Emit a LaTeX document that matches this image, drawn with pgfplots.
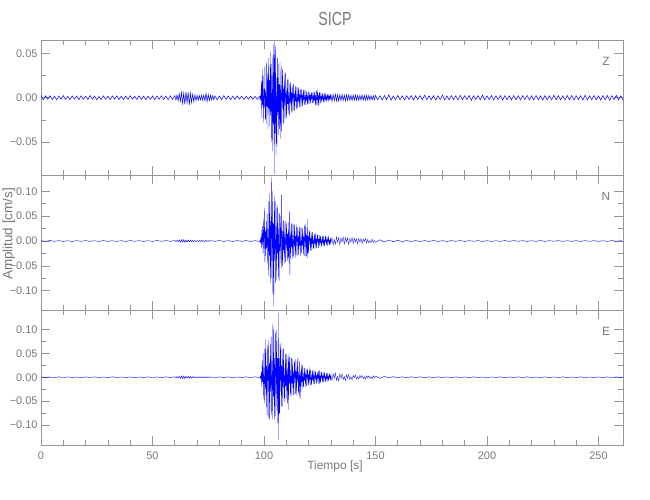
\documentclass[border=0pt]{standalone}
\usepackage{fontspec}
\setmainfont{Liberation Sans}
\usepackage{pgfplots}
\pgfplotsset{compat=1.18}
\definecolor{axgray}{RGB}{150,150,150}
\definecolor{txtgray}{RGB}{120,120,120}
\pgfplotsset{
  seis/.style={
    scale only axis, width=582bp, height=135bp,
    xmin=0, xmax=261,
    axis line style={axgray, line width=0.6bp},
    tick style={axgray, line width=0.6bp},
    major tick length=9bp, minor tick length=5bp,
    xtick={0,50,100,150,200,250}, minor x tick num=4,
    minor y tick num=1,
    tick label style={font=\fontsize{11}{12}\selectfont, text=txtgray},
    xticklabel style={yshift=-3bp},
    xticklabels={},
    clip=true,
  },
  trace/.style={blue, line width=0.3bp},
  noise/.style={blue, line width=0.5bp},
}
\begin{document}
\begin{tikzpicture}
\useasboundingbox (0,0) rectangle (650bp,500bp);
% ---------------- Z ----------------
\begin{axis}[seis, at={(41bp,325bp)}, anchor=south west, ymin=-87, ymax=65,
  ytick={-50,0,50}, yticklabels={−0.05,0.00,0.05}]
\addplot[noise] coordinates {
(0,2.8)(1,-2.4)(2,2.1)(3,-1.8)(4,2.3)(5,-2.0)(6,1.5)(7,-2.2)(8,1.9)(9,-1.7)(10,2.4)(11,-1.9)(12,1.6)(13,-2.3)(14,2.0)(15,-1.5)(16,1.8)(17,-2.1)(18,2.2)(19,-1.8)(20,1.7)(21,-2.0)(22,2.5)(23,-1.6)(24,1.9)(25,-2.2)(26,1.5)(27,-1.9)(28,2.1)(29,-1.7)(30,1.8)(31,-2.3)(32,2.0)(33,-1.6)(34,2.2)(35,-1.9)(36,1.7)(37,-2.1)(38,1.9)(39,-1.8)(40,2.3)(41,-1.7)(42,1.6)(43,-2.0)(44,2.1)(45,-1.9)(46,1.8)(47,-2.2)(48,1.7)(49,-1.8)(50,2.0)(51,-2.1)(52,1.9)(53,-1.6)(54,2.2)(55,-2.0)(56,1.8)(57,-2.3)(58,2.1)(59,-1.9)
(60,2.4)(60.5,-2.6)(61,3.0)(61.5,-3.4)(62,4.4)(62.5,-4.0)(63,5.8)(63.5,-6.5)(64,5.0)(64.5,-7.5)(65,6.6)(65.5,-5.6)(66,6.2)(66.5,-8.0)(67,4.8)(67.5,-5.2)(68,3.8)(68.5,-4.2)(69,3.2)(69.5,-3.0)(70,2.7)(70.5,-2.9)(71,2.4)(71.5,-2.3)(72,2.6)(72.5,-2.8)(73,3.2)(73.5,-3.6)(74,5.0)(74.5,-4.2)(75,3.6)(75.5,-3.2)(76,2.7)(76.5,-2.5)(77,2.3)(77.5,-2.2)(78,2.1)
(79,-2.3)(80,1.9)(81,-2.1)(82,2.4)(83,-1.8)(84,2.0)(85,-2.2)(86,1.7)(87,-1.9)(88,2.1)(89,-1.6)(90,1.8)(91,-2.0)(92,1.6)(93,-1.8)(94,1.9)(95,-1.7)(96,1.5)(97,-1.8)(98,1.7)
};
\addplot[trace] coordinates {
(98,1.7)(98.2,-1.8)(98.4,2.0)(98.6,-3)(98.8,18)(99.0,-22)(99.2,32)(99.4,-8)(99.6,25)(99.8,-28)(100.0,10)(100.2,-12)(100.4,35)(100.6,-25)(100.8,8)(101.0,-30)(101.2,40)(101.4,-10)(101.6,28)(101.8,-35)(102.0,45)(102.2,-12)(102.4,20)(102.6,-32)(102.8,52)(103.0,-20)(103.2,38)(103.4,-50)(103.6,25)(103.8,-60)(104.0,48)(104.2,-30)(104.4,60)(104.6,-86)(104.8,64)(105.0,-40)(105.2,58)(105.4,-65)(105.6,22)(105.8,-55)(106.0,45)(106.2,-20)(106.4,38)(106.6,-42)(106.8,15)(107.0,-35)(107.2,40)(107.4,-46)(107.6,14)(107.8,-38)(108.0,35)(108.2,-12)(108.4,32)(108.6,-30)(108.8,10)(109.0,-28)(109.2,26)(109.4,-9)(109.6,28)(109.8,-22)(110.0,8)(110.2,-24)(110.4,20)(110.6,-7)(110.8,22)(111.0,-18)(111.2,6)(111.4,-20)(111.6,16)(111.8,-6)(112.0,18)(112.2,-15)(112.4,6)(112.6,-17)(112.8,14)(113.0,-5)(113.2,16)(113.4,-14)(113.6,5)(113.8,-15)(114.0,13)(114.2,-4)(114.4,12)(114.6,-13)(114.8,4)(115.0,-12)(115.2,11)(115.4,-4)(115.6,12)(115.8,-10)(116.0,4)(116.2,-11)(116.4,10)(116.6,-3)(116.8,10)(117.0,-9)(117.2,3)(117.4,-10)(117.6,9)(117.8,-3)(118.0,9)(118.2,-8)(118.4,3)(118.6,-8)(118.8,8)(119.0,-3)(119.2,7)(119.4,-8)(119.6,3)(119.8,-7)(120.0,7)(120.2,-3)(120.4,6)(120.6,-7)(120.8,3)(121.0,-6)(121.2,6)(121.4,-2)(121.6,6)(121.8,-6)(122.0,3)(122.2,-6)(122.4,7)(122.6,-3)(122.8,7)(123.0,-8)(123.2,3)(123.4,-9)(123.6,8)(123.8,-3)(124.0,9)(124.2,-10)(124.4,3)(124.6,-8)(124.8,7)(125.0,-3)(125.2,6)(125.4,-6)(125.6,2)(125.8,-5)(126.0,5)(126.2,-2)(126.4,5)(126.6,-5)(126.8,2)(127.0,-5)(127.2,5)(127.4,-2)(127.6,5)(127.8,-4)(128.0,2)(128.2,-4)(128.4,4)(128.6,-2)(128.8,4)(129.0,-4)(129.2,2)(129.4,-3)(129.6,4)(129.8,-2)(130.0,3.5)
};
\addplot[noise] coordinates {
(130,3.5)(130.5,-4)(131,3.6)(131.5,-3.4)(132,4)(132.5,-3.6)(133,3.2)(133.5,-3.8)(134,3.4)(134.5,-3.1)(135,3.6)(135.5,-3.3)(136,3)(136.5,-3.5)(137,3.2)(137.5,-2.9)(138,3.3)(138.5,-3)(139,2.8)(139.5,-3.2)(140,3)(140.5,-2.7)(141,3.1)(141.5,-2.9)(142,2.6)(142.5,-3)(143,2.8)(143.5,-2.6)(144,2.9)(144.5,-2.7)(145,2.5)(145.5,-2.8)(146,2.6)(146.5,-2.4)(147,2.7)(147.5,-2.5)(148,2.3)(148.5,-2.6)(149,2.4)(149.5,-2.3)(150,2.5)
(151,-2.4)(152,2.2)(153,-2.6)(154,2.5)(155,-2.1)(156,3.4)(157,-2.8)(158,2.0)(159,-2.3)(160,2.6)(161,-2.2)(162,2.1)(163,-2.5)(164,2.3)(165,-2.0)(166,2.4)(167,-2.7)(168,2.2)(169,-2.1)(170,2.5)(171,-2.3)(172,2.8)(173,-2.2)(174,2.1)(175,-2.4)(176,2.3)(177,-2.6)(178,2.2)(179,-2.1)(180,3.0)(181,-2.5)(182,2.1)(183,-2.3)(184,2.4)(185,-2.2)(186,2.0)(187,-2.5)(188,2.7)(189,-2.2)(190,2.3)(191,-2.1)(192,2.5)(193,-2.8)(194,2.2)(195,-2.0)(196,2.4)(197,-2.3)(198,2.9)(199,-2.4)(200,2.1)(201,-2.2)(202,2.6)(203,-2.5)(204,2.2)(205,-2.1)(206,2.4)(207,-2.6)(208,2.3)(209,-2.1)(210,2.2)(211,-2.5)(212,2.7)(213,-2.2)(214,2.1)(215,-2.4)(216,2.3)(217,-2.1)(218,2.6)(219,-2.3)(220,2.2)(221,-2.5)(222,2.4)(223,-2.2)(224,2.1)(225,-2.7)(226,2.5)(227,-2.3)(228,2.2)(229,-2.4)(230,2.8)(231,-2.2)(232,2.3)(233,-2.5)(234,2.1)(235,-2.3)(236,2.5)(237,-2.2)(238,2.4)(239,-2.6)(240,2.2)(241,-2.1)(242,2.3)(243,-2.5)(244,2.9)(245,-2.4)(246,2.2)(247,-2.3)(248,2.5)(249,-2.2)(250,2.1)(251,-2.6)(252,2.4)(253,-2.3)(254,2.5)(255,-2.8)(256,2.3)(257,-2.2)(258,2.6)(259,-2.4)(260,2.2)(261,-2.5)
};
\end{axis}
% ---------------- N ----------------
\begin{axis}[seis, at={(41bp,190bp)}, anchor=south west, ymin=-139, ymax=133,
  ytick={-100,-50,0,50,100}, yticklabels={−0.10,−0.05,0.00,0.05,0.10}]
\addplot[noise, line width=0.4bp] coordinates {
(0,0.8)(2,-0.7)(4,0.9)(6,-0.6)(8,0.7)(10,-0.8)(12,0.6)(14,-0.9)(16,0.7)(18,-0.6)(20,0.8)(22,-0.7)(24,0.6)(26,-0.8)(28,0.9)(30,-0.7)(32,0.6)(34,-0.8)(36,0.7)(38,-0.9)(40,0.8)(42,-0.6)(44,0.7)(46,-0.8)(48,0.6)(50,-0.7)(52,0.9)(54,-0.6)(56,0.8)(58,-0.7)
(60,1.0)(60.5,-1.2)(61,1.4)(61.5,-1.6)(62,2.0)(62.5,-2.2)(63,2.6)(63.5,-2.4)(64,2.8)(64.5,-2.6)(65,2.2)(65.5,-2.5)(66,2.0)(66.5,-1.8)(67,1.6)(67.5,-1.5)(68,1.3)(68.5,-1.4)(69,1.2)(69.5,-1.1)(70,1.0)(70.5,-1.2)(71,1.0)(71.5,-0.9)(72,1.1)(72.5,-1.0)(73,0.9)(73.5,-1.1)(74,1.3)(74.5,-1.0)(75,0.9)(75.5,-0.8)
(76,0.8)(78,-0.7)(80,0.9)(82,-0.8)(84,0.7)(86,-0.9)(88,0.8)(90,-0.7)(92,0.9)(94,-0.8)(96,0.7)(98,-0.9)
};
\addplot[trace] coordinates {
(98,-0.9)(98.2,1.5)(98.4,-2)(98.6,8)(98.8,-15)(99.0,22)(99.2,-8)(99.4,30)(99.6,-25)(99.8,45)(100.0,-15)(100.2,67)(100.4,-42)(100.6,20)(100.8,-30)(101.0,40)(101.2,-15)(101.4,55)(101.6,-45)(101.8,25)(102.0,-70)(102.2,80)(102.4,-30)(102.6,95)(102.8,-85)(103.0,40)(103.2,-75)(103.4,128)(103.6,-40)(103.8,100)(104.0,-108)(104.2,35)(104.4,-131)(104.6,90)(104.8,-40)(105.0,80)(105.2,-85)(105.4,30)(105.6,-78)(105.8,75)(106.0,-25)(106.2,68)(106.4,-72)(106.6,25)(106.8,-80)(107.0,55)(107.2,-20)(107.4,50)(107.6,-45)(107.8,93)(108.0,-55)(108.2,20)(108.4,-50)(108.6,42)(108.8,-18)(109.0,40)(109.2,-45)(109.4,15)(109.6,-42)(109.8,40)(110.0,-15)(110.2,35)(110.4,-40)(110.6,14)(110.8,-35)(111.0,38)(111.2,-45)(111.4,60)(111.6,-67)(111.8,15)(112.0,-35)(112.2,36)(112.4,-12)(112.6,34)(112.8,-36)(113.0,12)(113.2,-33)(113.4,35)(113.6,-12)(113.8,32)(114.0,-34)(114.2,10)(114.4,-28)(114.6,33)(114.8,-10)(115.0,28)(115.2,-31)(115.4,10)(115.6,-27)(115.8,30)(116.0,-10)(116.2,26)(116.4,-30)(116.6,9)(116.8,-25)(117.0,27)(117.2,-9)(117.4,25)(117.6,-26)(117.8,10)(118.0,-30)(118.2,32)(118.4,-12)(118.6,35)(118.8,-32)(119.0,12)(119.2,-30)(119.4,44)(119.6,-34)(119.8,10)(120.0,-25)(120.2,22)(120.4,-8)(120.6,21)(120.8,-19)(121.0,7)(121.2,-20)(121.4,17)(121.6,-6)(121.8,18)(122.0,-17)(122.2,6)(122.4,-16)(122.6,14)(122.8,-5)(123.0,16)(123.2,-14)(123.4,5)(123.6,-15)(123.8,14)(124.0,-5)(124.2,13)(124.4,-14)(124.6,4)(124.8,-11)(125.0,12)(125.2,-4)(125.4,10)(125.6,-12)(125.8,4)(126.0,-10)(126.2,11)(126.4,-3)(126.6,10)(126.8,-11)(127.0,3)(127.2,-10)(127.4,11)(127.6,-3)(127.8,10)(128.0,-8)(128.2,3)(128.4,-10)(128.6,8)(128.8,-3)(129.0,10)(129.2,-8)(129.4,3)(129.6,-8)(129.8,7)(130.0,-3)
(130.5,7)(131,-8)(131.5,3)(132,-7)(132.5,8)(133,-3)(133.5,7)(134,-8)(134.5,6)(135,-2)(135.5,8)(136,-6)(136.5,7)(137,-2)(137.5,6)(138,-7)(138.5,5)(139,-2)(139.5,7)(140,-5)(140.5,6)(141,-2)(141.5,4)(142,-6)(142.5,5)(143,-2)(143.5,5)(144,-5)(144.5,4)(145,-1)(145.5,5)(146,-4)(146.5,3)(147,-4)(147.5,1)(148,-3)(148.5,4)(149,-3)(149.5,1)(150,-3)
};
\addplot[noise, line width=0.4bp] coordinates {
(150,-3)(152,2.5)(154,-2.0)(156,1.8)(158,-1.5)(160,1.4)(162,-1.2)(164,1.0)(166,-1.1)(168,0.9)(170,-1.0)(172,0.8)(174,-0.9)(176,1.0)(178,-0.8)(180,0.7)(182,-0.9)(184,0.8)(186,-0.7)(188,0.9)(190,-0.8)(192,0.7)(194,-0.6)(196,0.8)(198,-0.9)(200,0.7)(202,-0.8)(204,0.6)(206,-0.7)(208,0.9)(210,-0.7)(212,0.8)(214,-0.6)(216,0.7)(218,-0.8)(220,0.6)(222,-0.7)(224,0.9)(226,-0.8)(228,0.7)(230,-0.6)(232,0.8)(234,-0.7)(236,0.6)(238,-0.8)(240,0.7)(242,-0.9)(244,0.8)(246,-0.6)(248,0.7)(250,-0.8)(252,0.6)(254,-0.7)(256,0.9)(258,-0.6)(260,0.7)(261,-0.8)
};
\end{axis}
% ---------------- E ----------------
\begin{axis}[seis, at={(41bp,55bp)}, anchor=south west, ymin=-142, ymax=141,
  ytick={-100,-50,0,50,100}, yticklabels={−0.10,−0.05,0.00,0.05,0.10},
  xticklabels={0,50,100,150,200,250}]
\addplot[noise, line width=0.4bp] coordinates {
(0,0.7)(2,-0.8)(4,0.6)(6,-0.7)(8,0.9)(10,-0.6)(12,0.8)(14,-0.7)(16,0.6)(18,-0.9)(20,0.7)(22,-0.6)(24,0.8)(26,-0.7)(28,0.6)(30,-0.8)(32,0.9)(34,-0.7)(36,0.6)(38,-0.8)(40,0.7)(42,-0.9)(44,0.6)(46,-0.7)(48,0.8)(50,-0.6)(52,0.7)(54,-0.8)(56,0.9)(58,-0.7)
(60,1.1)(60.5,-1.3)(61,1.6)(61.5,-1.8)(62,2.2)(62.5,-2.5)(63,2.8)(63.5,-3.0)(64,2.6)(64.5,-2.8)(65,2.4)(65.5,-2.2)(66,2.0)(66.5,-1.9)(67,1.7)(67.5,-1.5)(68,1.4)(68.5,-1.2)(69,1.1)(69.5,-1.0)(70,0.9)(70.5,-1.0)(71,0.8)(71.5,-0.9)(72,1.0)(72.5,-0.8)(73,0.9)(73.5,-1.0)(74,1.2)(74.5,-0.9)(75,0.8)(75.5,-0.7)
(76,0.8)(78,-0.6)(80,0.7)(82,-0.9)(84,0.8)(86,-0.7)(88,0.6)(90,-0.8)(92,0.9)(94,-0.7)(96,0.8)(98,-0.6)
};
\addplot[trace] coordinates {
(98,-0.6)(98.2,-1)(98.4,2)(98.6,-5)(98.8,12)(99.0,-20)(99.2,35)(99.4,-10)(99.6,50)(99.8,-45)(100.0,20)(100.2,-55)(100.4,60)(100.6,-25)(100.8,80)(101.0,-62)(101.2,25)(101.4,-80)(101.6,68)(101.8,-30)(102.0,78)(102.2,-85)(102.4,30)(102.6,-90)(102.8,70)(103.0,-30)(103.2,85)(103.4,-80)(103.6,35)(103.8,-88)(104.0,113)(104.2,-40)(104.4,100)(104.6,-90)(104.8,40)(105.0,-82)(105.2,95)(105.4,-35)(105.6,100)(105.8,-70)(106.0,40)(106.2,-95)(106.4,135)(106.6,-132)(106.8,40)(107.0,-75)(107.2,70)(107.4,-30)(107.6,72)(107.8,-60)(108.0,25)(108.2,-62)(108.4,58)(108.6,-22)(108.8,60)(109.0,-50)(109.2,20)(109.4,-52)(109.6,48)(109.8,-18)(110.0,50)(110.2,-45)(110.4,18)(110.6,-55)(110.8,45)(111.0,-68)(111.2,50)(111.4,-15)(111.6,42)(111.8,-40)(112.0,15)(112.2,-38)(112.4,40)(112.6,-14)(112.8,38)(113.0,-36)(113.2,14)(113.4,-38)(113.6,35)(113.8,-12)(114.0,38)(114.2,-35)(114.4,12)(114.6,-38)(114.8,34)(115.0,-12)(115.2,40)(115.4,-34)(115.6,12)(115.8,-38)(116.0,35)(116.2,-45)(116.4,12)(116.6,-30)(116.8,28)(117.0,-10)(117.2,25)(117.4,-24)(117.6,8)(117.8,-21)(118.0,20)(118.2,-8)(118.4,19)(118.6,-20)(118.8,7)(119.0,-18)(119.2,17)(119.4,-6)(119.6,18)(119.8,-16)(120.0,6)(120.2,-18)(120.4,20)(120.6,-6)(120.8,16)(121.0,-17)(121.2,5)(121.4,-16)(121.6,14)(121.8,-5)(122.0,16)(122.2,-14)(122.4,5)(122.6,-15)(122.8,14)(123.0,-5)(123.2,12)(123.4,-14)(123.6,4)(123.8,-12)(124.0,11)(124.2,-4)(124.4,13)(124.6,-14)(124.8,15)(125.0,-13)(125.2,4)(125.4,-11)(125.6,12)(125.8,-4)(126.0,11)(126.2,-10)(126.4,3)(126.6,-11)(126.8,10)(127.0,-3)(127.2,10)(127.4,-9)(127.6,3)(127.8,-10)(128.0,9)(128.2,-3)(128.4,9)(128.6,-9)(128.8,3)(129.0,-7)(129.2,8)(129.4,-3)(129.6,7)(129.8,-7)(130.0,3)
(130.5,-7)(131,8)(131.5,-2)(132,9)(132.5,-7)(133,2)(133.5,-8)(134,7)(134.5,-2)(135,7)(135.5,-5)(136,2)(136.5,-7)(137,5)(137.5,-2)(138,6)(138.5,-5)(139,1)(139.5,-6)(140,4)(140.5,-1)(141,5)(141.5,-4)(142,1)(142.5,-4)(143,4)(143.5,-1)(144,4)(144.5,-3)(145,1)(145.5,-4)(146,3)(146.5,-1)(147,3)(147.5,-3)(148,1)(148.5,-3)(149,3)(149.5,-1)(150,2.5)
};
\addplot[noise, line width=0.4bp] coordinates {
(150,2.5)(152,-2.2)(154,1.8)(156,-1.5)(158,1.3)(160,-1.2)(162,1.0)(164,-0.9)(166,1.1)(168,-0.8)(170,0.9)(172,-1.0)(174,0.8)(176,-0.7)(178,0.9)(180,-0.8)(182,0.7)(184,-0.9)(186,0.8)(188,-0.6)(190,0.7)(192,-0.8)(194,0.9)(196,-0.7)(198,0.6)(200,-0.8)(202,0.7)(204,-0.6)(206,0.8)(208,-0.9)(210,0.7)(212,-0.6)(214,0.8)(216,-0.7)(218,0.9)(220,-0.8)(222,0.6)(224,-0.7)(226,0.8)(228,-0.9)(230,0.7)(232,-0.6)(234,0.8)(236,-0.7)(238,0.6)(240,-0.8)(242,0.9)(244,-0.7)(246,0.6)(248,-0.8)(250,0.7)(252,-0.9)(254,0.8)(256,-0.6)(258,0.7)(260,-0.8)(261,0.6)
};
\end{axis}
% ---------------- texts ----------------
\node[text=txtgray, font=\fontsize{19}{20}\selectfont, xscale=0.75, transform shape] at (335bp,481bp) {SICP};
\node[text=txtgray, font=\fontsize{12}{13}\selectfont] at (335bp,34bp) {Tiempo [s]};
\node[text=txtgray, font=\fontsize{13.5}{14}\selectfont, rotate=90] at (9bp,266bp) {Amplitud [cm/s]};
\node[text=txtgray, font=\fontsize{12}{13}\selectfont] at (606bp,439bp) {Z};
\node[text=txtgray, font=\fontsize{12}{13}\selectfont] at (606bp,304bp) {N};
\node[text=txtgray, font=\fontsize{12}{13}\selectfont] at (606bp,169bp) {E};
\end{tikzpicture}
\end{document}
